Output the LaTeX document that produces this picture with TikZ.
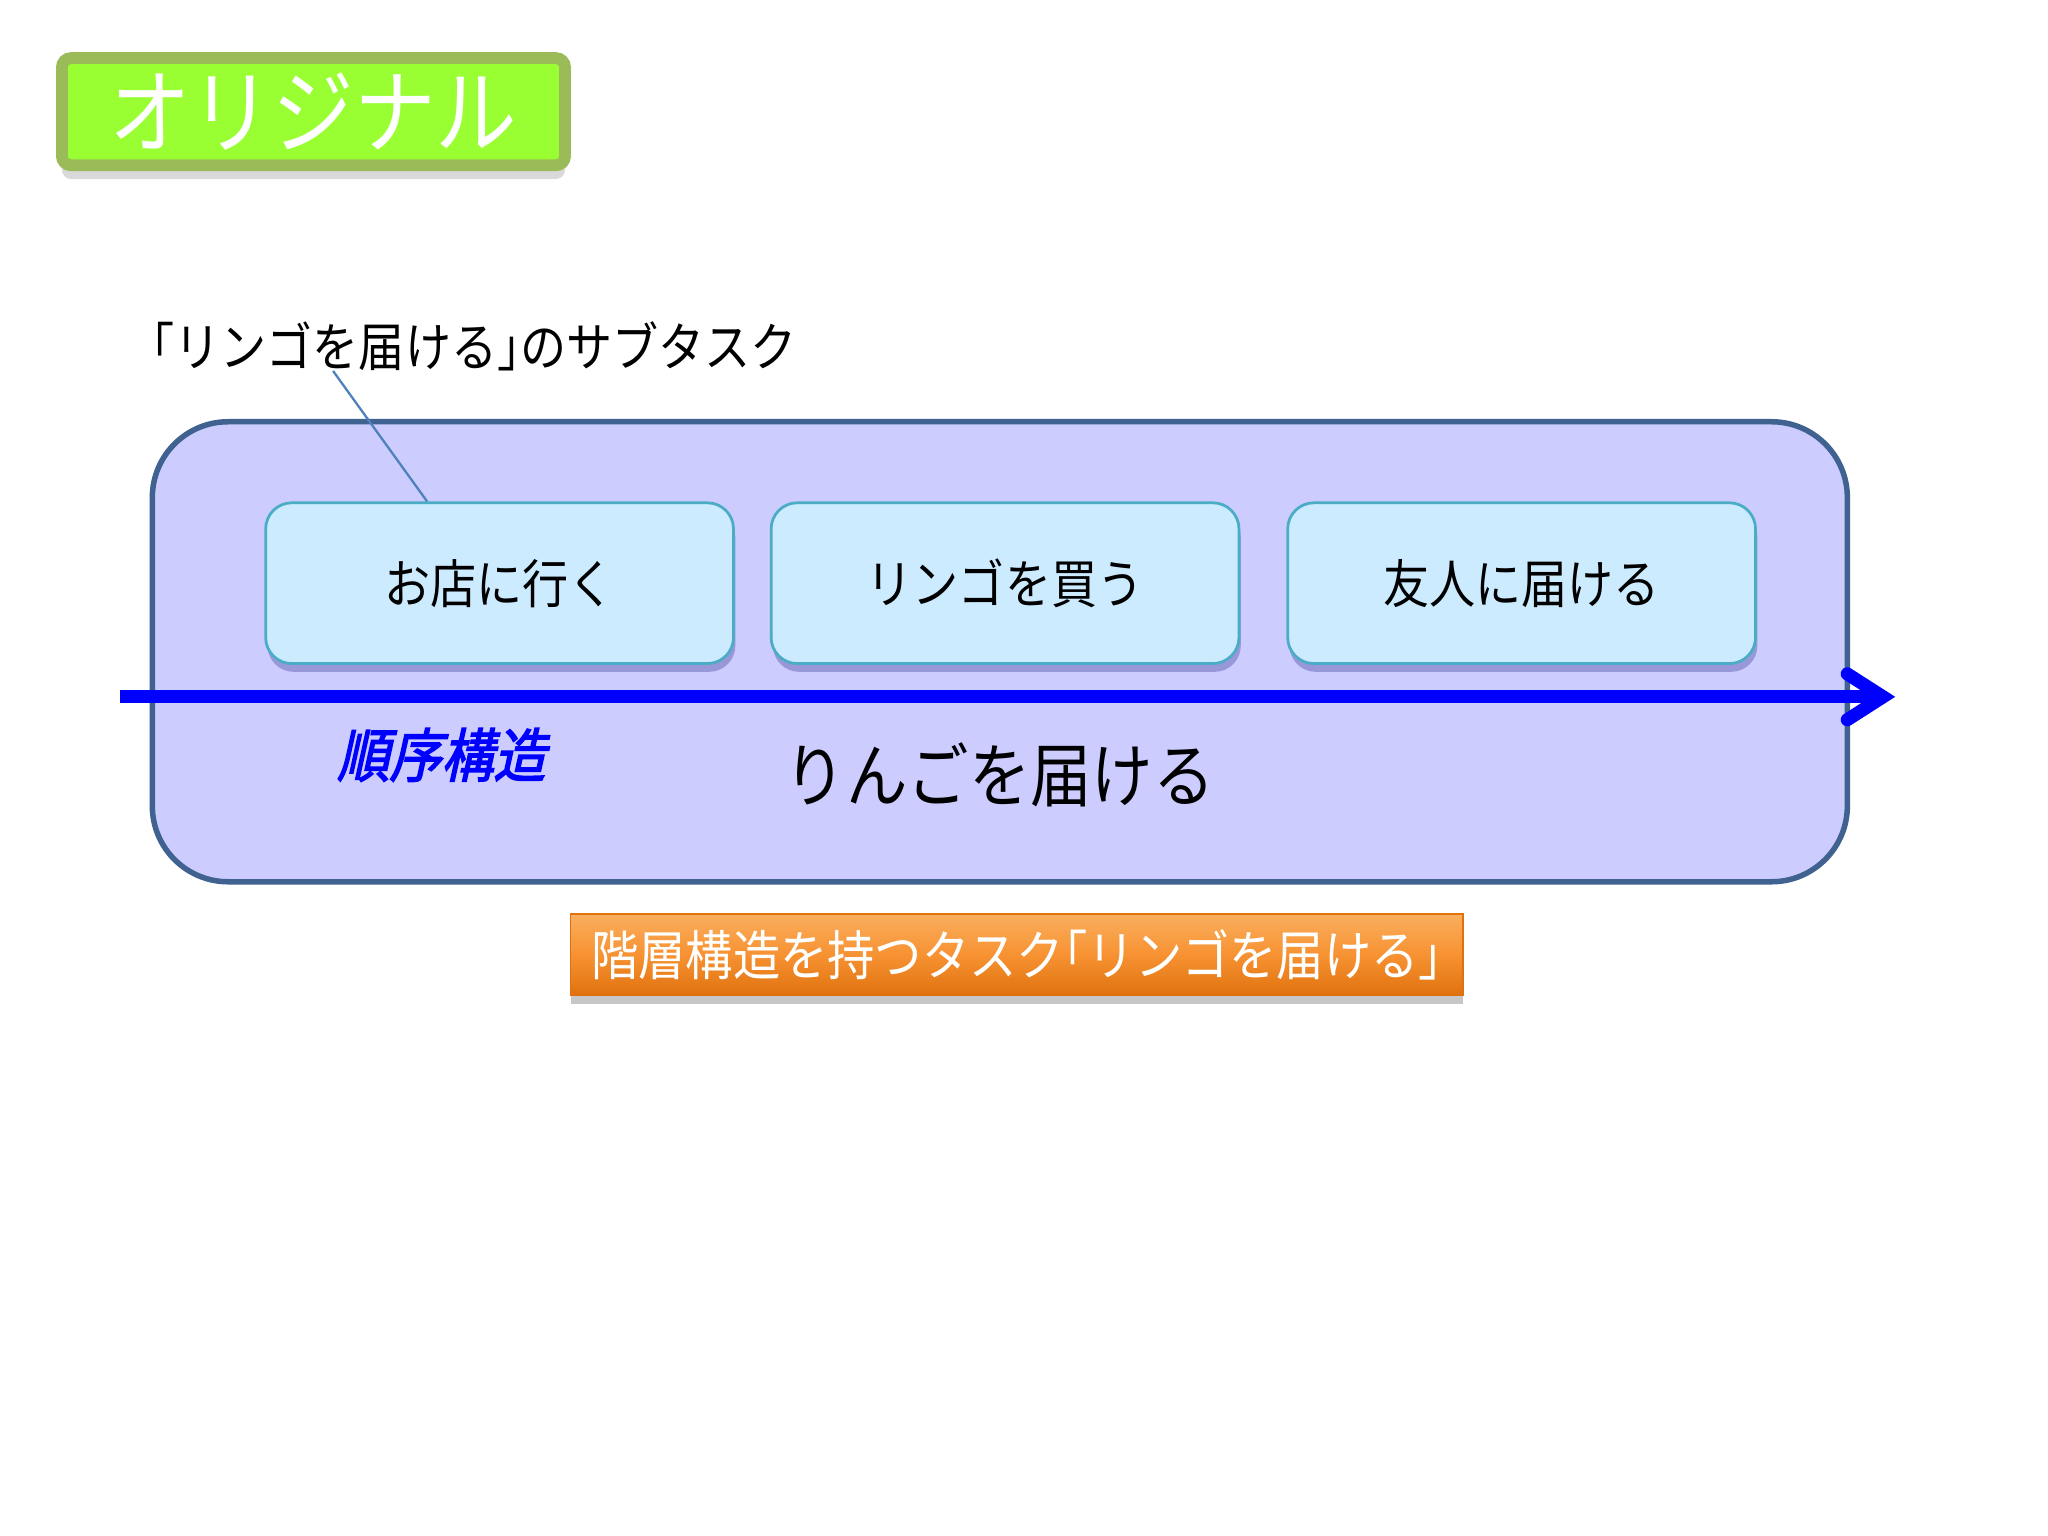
\documentclass[tikz,border=0pt]{standalone}
\usepackage{fontspec}
\usetikzlibrary{arrows.meta,shadows}
\newfontfamily\jp[FakeStretch=0.88]{Noto Sans CJK JP}
\newfontfamily\jph[FakeStretch=0.88,RawFeature=+halt]{Noto Sans CJK JP}
\newfontfamily\jpbi[FakeStretch=0.9,FakeSlant=0.22,FakeBold=2.5]{Noto Sans CJK JP}
\newcommand{\lbr}{{\jph 「}}
\newcommand{\rbr}{{\jph 」}}
\definecolor{greenedge}{HTML}{9BBB59}
\definecolor{greenfill}{HTML}{99FF33}
\definecolor{bigfill}{HTML}{CCCCFF}
\definecolor{bigedge}{HTML}{3F6290}
\definecolor{taskfill}{HTML}{CCEBFF}
\definecolor{taskedge}{HTML}{4BACC6}
\definecolor{calloutc}{HTML}{4F81BD}
\definecolor{orangetop}{HTML}{FAAE5E}
\definecolor{orangemid}{HTML}{F79232}
\definecolor{orangebot}{HTML}{E0720E}
\tikzset{
  titlebox/.style={draw=greenedge, fill=greenfill, line width=0.09cm, rounded corners=2pt,
    minimum width=3.85cm, minimum height=0.82cm, inner sep=0pt, text=white,
    font=\jp\fontsize{20.2}{22}\selectfont,
    drop shadow={shadow xshift=0pt, shadow yshift=-3pt, fill=black, opacity=0.15}},
  outerbox/.style={draw=bigedge, fill=bigfill, line width=1.2pt, rounded corners=0.58cm,
    minimum width=12.97cm, minimum height=3.52cm, inner sep=0pt},
  taskbox/.style={draw=taskedge, fill=taskfill, line width=0.6pt, rounded corners=0.2cm,
    minimum width=3.58cm, minimum height=1.23cm, inner sep=0pt,
    font=\jp\fontsize{11.4}{13}\selectfont,
    drop shadow={shadow xshift=0.4pt, shadow yshift=-1.8pt, fill=black!60!blue, opacity=0.25}},
  plaintext/.style={inner sep=0pt, font=\jp\fontsize{11.4}{13}\selectfont},
  seqarrow/.style={draw=blue, line width=2.85pt,
    -{Straight Barb[length=7.8pt, width=10pt, line cap=round, line join=miter]}},
  callout/.style={draw=calloutc, line width=0.5pt},
  resultbox/.style={draw=orangebot, line width=0.4pt, top color=orangetop, bottom color=orangebot,
    middle color=orangemid, minimum width=6.83cm, minimum height=0.62cm, inner sep=0pt,
    text=white, font=\jp\fontsize{11.7}{13}\selectfont,
    drop shadow={shadow xshift=0pt, shadow yshift=-2pt, fill=black, opacity=0.22}}
}
\begin{document}
\begin{tikzpicture}[x=0.01cm, y=-0.01cm]
\useasboundingbox (0,0) rectangle (1568,1176);
\fill[white] (0,0) rectangle (1568,1176);

\node[titlebox] (title) at (240,85.5) {オリジナル};

\node[outerbox] (outer) at (765.5,499) {};

\node[plaintext] (sublabel) at (363,265) {\lbr リンゴを届ける\rbr のサブタスク};

\node[taskbox] (t1) at (382.5,446.5) {お店に行く};
\node[taskbox] (t2) at (769.5,446.5) {リンゴを買う};
\node[taskbox] (t3) at (1165,446.5) {友人に届ける};

\coordinate (c1) at (255,284);
\coordinate (c2) at (327,0);
\draw[callout] (c1) -- (t1.north -| c2);

\coordinate (a0) at (92,533.5);
\coordinate (a1) at (1451,533.5);
\draw[seqarrow] (a0) -- (a1);

\node[inner sep=0pt, text=blue, font=\jpbi\fontsize{12.6}{14}\selectfont] (seq) at (338,578) {順序構造};
\node[inner sep=0pt, font=\jp\fontsize{15.2}{17}\selectfont] (whole) at (765.5,593) {りんごを届ける};

\node[resultbox] (result) at (778.5,731) {階層構造を持つタスク\lbr リンゴを届ける\rbr};
\end{tikzpicture}
\end{document}
